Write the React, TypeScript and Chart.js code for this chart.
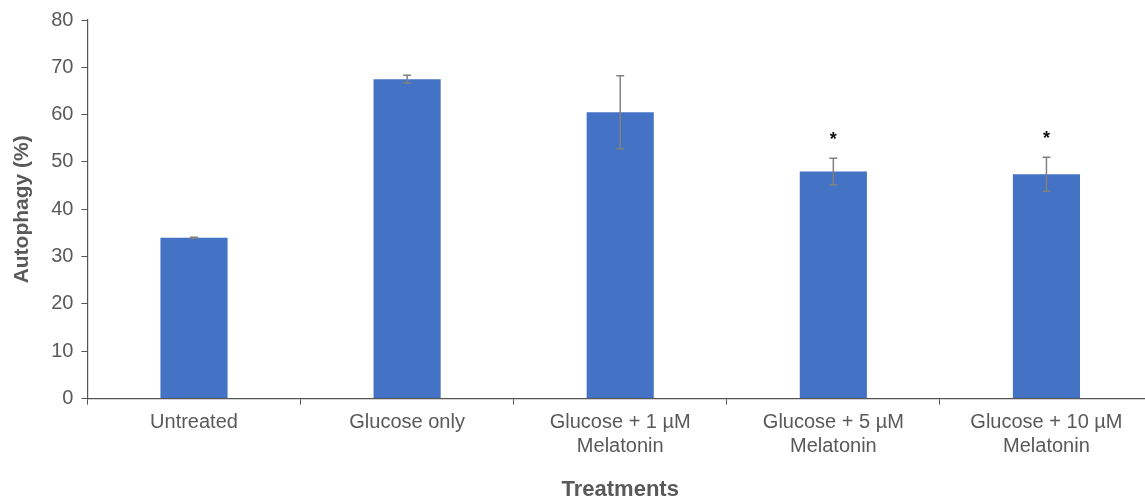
import React, { useEffect, useRef } from "react";
import { Chart, registerables } from "chart.js";

Chart.register(...registerables);

const categories: string[][] = [
  ["Untreated"],
  ["Glucose only"],
  ["Glucose + 1 µM", "Melatonin"],
  ["Glucose + 5 µM", "Melatonin"],
  ["Glucose + 10 µM", "Melatonin"],
];
const values: number[] = [34.0, 67.5, 60.5, 48.0, 47.4];
const errors: number[] = [0.1, 0.8, 7.7, 2.8, 3.6];
const significant: boolean[] = [false, false, false, true, true];

const FONT = "'Liberation Sans', Arial, sans-serif";
const TEXT = "#595959";

const errorBarPlugin = {
  id: "errorBars",
  afterDatasetsDraw(chart: any) {
    const { ctx, scales } = chart;
    const meta = chart.getDatasetMeta(0);
    const y = scales.y;
    ctx.save();
    meta.data.forEach((bar: any, i: number) => {
      const x = bar.x;
      const top = y.getPixelForValue(values[i] + errors[i]);
      const bot = y.getPixelForValue(values[i] - errors[i]);
      ctx.strokeStyle = "#808080";
      ctx.lineWidth = 1.5;
      ctx.beginPath();
      ctx.moveTo(x, top);
      ctx.lineTo(x, bot);
      ctx.moveTo(x - 4, top);
      ctx.lineTo(x + 4, top);
      ctx.moveTo(x - 4, bot);
      ctx.lineTo(x + 4, bot);
      ctx.stroke();
      if (significant[i]) {
        ctx.fillStyle = "#111";
        ctx.font = `bold 18px ${FONT}`;
        ctx.textAlign = "center";
        ctx.textBaseline = "middle";
        ctx.fillText("*", x, top - 18);
      }
    });
    ctx.restore();
  },
};

export default function App() {
  const ref = useRef<HTMLCanvasElement>(null);
  useEffect(() => {
    document.body.style.margin = "0";
    const chart = new Chart(ref.current!, {
      type: "bar",
      data: {
        labels: categories,
        datasets: [
          {
            data: values,
            backgroundColor: "#4472C4",
            barPercentage: 0.315,
            categoryPercentage: 1,
          },
        ],
      },
      options: {
        responsive: false,
        animation: false,
        layout: { padding: { top: 14, left: 10, right: 0, bottom: 0 } },
        plugins: { legend: { display: false }, tooltip: { enabled: false } },
        scales: {
          x: {
            grid: {
              display: true,
              drawOnChartArea: false,
              offset: true,
              tickLength: 6,
              color: "#555",
            },
            border: { color: "#555", width: 1.2 },
            ticks: {
              color: TEXT,
              font: { family: FONT, size: 20, lineHeight: 1.2 },
              maxRotation: 0,
              autoSkip: false,
              padding: 6,
            },
            title: {
              display: true,
              text: "Treatments",
              color: TEXT,
              font: { family: FONT, size: 22, weight: "bold" },
              padding: { top: 12, bottom: 0 },
            },
          },
          y: {
            min: 0,
            max: 80,
            ticks: {
              stepSize: 10,
              color: TEXT,
              font: { family: FONT, size: 20 },
              padding: 8,
            },
            grid: {
              drawOnChartArea: false,
              tickLength: 6,
              color: "#555",
            },
            border: { color: "#555", width: 1.2 },
            title: {
              display: true,
              text: "Autophagy (%)",
              color: TEXT,
              font: { family: FONT, size: 21, weight: "bold" },
              padding: { top: 0, bottom: 8 },
            },
          },
        },
      },
      plugins: [errorBarPlugin],
    });
    return () => chart.destroy();
  }, []);
  return (
    <div style={{ width: 1145, height: 498, overflow: "hidden" }}>
      <canvas ref={ref} width={1153} height={503} style={{ display: "block" }} />
    </div>
  );
}
